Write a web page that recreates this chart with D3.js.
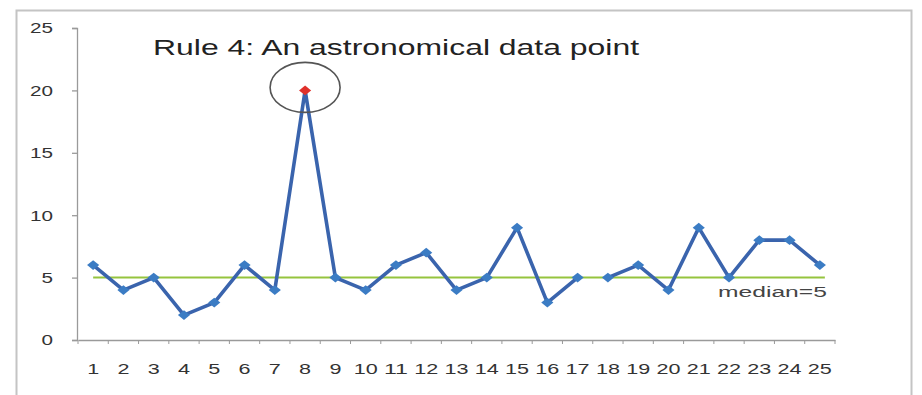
<!DOCTYPE html>
<html>
<head>
<meta charset="utf-8">
<script src="https://cdn.jsdelivr.net/npm/d3@7"></script>
<style>
  html, body { margin: 0; padding: 0; background: #fff; }
  svg { display: block; font-family: Arial, "Liberation Sans", sans-serif; }
</style>
</head>
<body>
<svg id="chart" width="922" height="395"></svg>
<script>
// Run chart data: observation numbers and measured values
const observations = d3.range(1, 26);
const values = [6, 4, 5, 2, 3, 6, 4, 20, 5, 4, 6, 7, 4, 5, 9, 3, 5, 5, 6, 4, 9, 5, 8, 8, 6];
// The series is broken before these observations (start of a new segment)
const segmentBreaks = [18];
const yTicks = [0, 5, 10, 15, 20, 25];
const medianValue = 5;
const outlierObservation = 8;
const titleText = "Rule 4: An astronomical data point";
const medianLabel = "median=5";

const svg = d3.select("#chart");
const width = 922, height = 395;

// The chart is laid out in a wide, horizontally stretched style:
// text is widened with textLength so glyph widths follow the layout.
const widen = (sel, perChar) =>
  sel.attr("textLength", function () { return this.textContent.length * perChar; })
     .attr("lengthAdjust", "spacingAndGlyphs");

// Outer frame
svg.append("rect")
  .attr("x", 16.5).attr("y", 10.5)
  .attr("width", 895).attr("height", 400)
  .attr("fill", "#fff")
  .attr("stroke", "#c4c4c4").attr("stroke-width", 2);

const margin = { left: 77, right: 87, top: 28, bottom: 55 };

const x = d3.scaleBand()
  .domain(observations)
  .range([margin.left + 1, width - margin.right])
  .paddingInner(0).paddingOuter(0);

const y = d3.scaleLinear()
  .domain([0, 25])
  .range([height - margin.bottom, margin.top]);

const cx = d => x(d) + x.bandwidth() / 2;

// Y axis
const yAxis = svg.append("g")
  .attr("transform", `translate(${margin.left},0)`)
  .call(d3.axisLeft(y).tickValues(yTicks).tickSize(5).tickPadding(19));
yAxis.selectAll("text").attr("fill", "#333").attr("font-size", 15);
widen(yAxis.selectAll("text"), 11.5);
yAxis.selectAll("line, path").attr("stroke", "#9a9a9a").attr("stroke-width", 1.3);

// X axis
const xAxis = svg.append("g")
  .attr("transform", `translate(0,${y(0)})`)
  .call(d3.axisBottom(x).tickSizeOuter(0).tickSize(0).tickPadding(23));
xAxis.selectAll("text").attr("fill", "#333").attr("font-size", 15);
widen(xAxis.selectAll("text"), 12);
xAxis.selectAll("path").attr("stroke", "#9a9a9a").attr("stroke-width", 1.3);
// small tick marks at band boundaries
const bounds = observations.map(o => x(o)).concat([x(25) + x.bandwidth()]);
xAxis.selectAll(".bnd")
  .data(bounds)
  .join("line")
  .attr("class", "bnd")
  .attr("x1", d => d).attr("x2", d => d)
  .attr("y1", 0).attr("y2", 4)
  .attr("stroke", "#9a9a9a");

// Median line
svg.append("line")
  .attr("x1", cx(1)).attr("x2", cx(25) + 5)
  .attr("y1", y(medianValue)).attr("y2", y(medianValue))
  .attr("stroke", "#95c43e").attr("stroke-width", 2);

const medText = svg.append("text")
  .attr("x", cx(25) + 7).attr("y", y(medianValue) + 19)
  .attr("text-anchor", "end")
  .attr("font-size", 14)
  .attr("fill", "#444")
  .text(medianLabel);
widen(medText, 13.6);

// Series split into segments
const points = observations.map((o, i) => ({ o, v: values[i] }));
const segments = [];
let current = [];
points.forEach(p => {
  if (segmentBreaks.includes(p.o) && current.length) { segments.push(current); current = []; }
  current.push(p);
});
segments.push(current);

const line = d3.line().x(d => cx(d.o)).y(d => y(d.v));
svg.selectAll(".seg")
  .data(segments)
  .join("path")
  .attr("class", "seg")
  .attr("d", line)
  .attr("fill", "none")
  .attr("stroke", "#3a64ad")
  .attr("stroke-width", 3.6)
  .attr("stroke-linejoin", "round");

// Diamond markers
const diamond = d3.symbol().type(d3.symbolDiamond2).size(60);
svg.selectAll(".mk")
  .data(points)
  .join("path")
  .attr("class", "mk")
  .attr("transform", d => `translate(${cx(d.o)},${y(d.v)}) scale(1.25,1)`)
  .attr("d", diamond)
  .attr("fill", d => d.o === outlierObservation ? "#e0302a" : "#3b7cc4");

// Circle highlighting the outlier
const outlier = points.find(p => p.o === outlierObservation);
svg.append("ellipse")
  .attr("cx", cx(outlier.o)).attr("cy", y(outlier.v) - 3)
  .attr("rx", 35).attr("ry", 25)
  .attr("fill", "none")
  .attr("stroke", "#555").attr("stroke-width", 1.6);

// Title
const title = svg.append("text")
  .attr("x", 153).attr("y", 55)
  .attr("font-size", 22)
  .attr("fill", "#222")
  .text(titleText);
title.attr("textLength", 486).attr("lengthAdjust", "spacingAndGlyphs");
</script>
</body>
</html>
